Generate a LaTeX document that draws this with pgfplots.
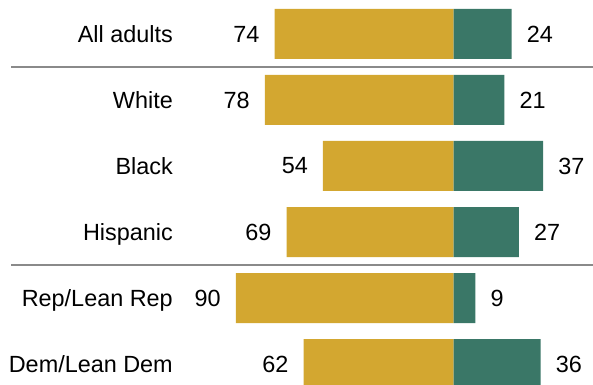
\documentclass[border=0pt]{standalone}
\usepackage{pgfplots}
\pgfplotsset{compat=1.18}
\usepackage{fontspec}
\setmainfont{Liberation Sans}
\definecolor{gold}{HTML}{D3A730}
\definecolor{teal}{HTML}{3A7767}
\definecolor{sep}{HTML}{8A8A8A}
\tikzset{catlab/.style={anchor=base east, inner sep=0pt, yshift=-8.4bp, font=\fontsize{23.5}{27}\selectfont}}
\begin{document}
\fontsize{23.5}{27}\selectfont
\begin{tikzpicture}
\begin{axis}[
  scale only axis,
  width=593bp, height=385bp,
  xmin=-187.5, xmax=57.6,
  ymin=-0.515, ymax=5.318,
  y dir=reverse,
  hide axis,
  xbar, bar width=50bp, bar shift=0pt,
  point meta=explicit symbolic,
  nodes near coords,
  clip=true,
]
\addplot[fill=gold, draw=none,
  every node near coord/.style={anchor=east, font=\fontsize{23.5}{27}\selectfont, inner xsep=15bp, inner ysep=0pt, text=black}] coordinates {
  (-74,0) [74]
  (-78,1) [78]
  (-54,2) [54]
  (-69,3) [69]
  (-90,4) [90]
  (-62,5) [62]
};
\addplot[fill=teal, draw=none,
  every node near coord/.style={anchor=west, font=\fontsize{23.5}{27}\selectfont, inner xsep=15bp, inner ysep=0pt, text=black}] coordinates {
  (24,0) [24]
  (21,1) [21]
  (37,2) [37]
  (27,3) [27]
  (9,4) [9]
  (36,5) [36]
};
\draw[sep, line width=2bp] (axis cs:-182.9,0.5) -- (axis cs:57.6,0.5);
\draw[sep, line width=2bp] (axis cs:-182.9,3.5) -- (axis cs:57.6,3.5);
\node[catlab] at (axis cs:-116,0) {All adults};
\node[catlab] at (axis cs:-116,1) {White};
\node[catlab] at (axis cs:-116,2) {Black};
\node[catlab] at (axis cs:-116,3) {Hispanic};
\node[catlab] at (axis cs:-116,4) {Rep/Lean Rep};
\node[catlab] at (axis cs:-116,5) {Dem/Lean Dem};
\end{axis}
\pgfresetboundingbox
\path[use as bounding box] (current axis.south west) rectangle (current axis.north east);
\end{tikzpicture}
\end{document}
